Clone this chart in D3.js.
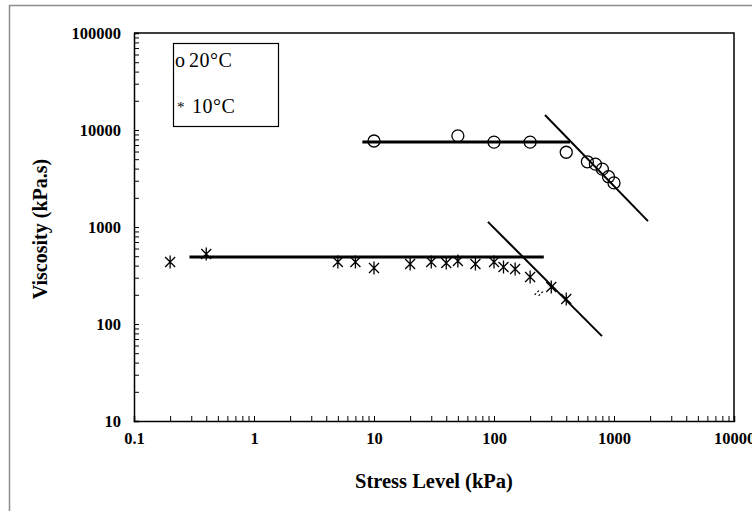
<!DOCTYPE html>
<html>
<head>
<meta charset="utf-8">
<script src="https://cdn.jsdelivr.net/npm/d3@7"></script>
<style>
  body { margin: 0; background: #fff; }
  svg { display: block; }
  text { font-family: "Liberation Serif", "Times New Roman", serif; fill: #000; }
</style>
</head>
<body>
<svg id="chart" width="752" height="511"></svg>
<script>
// stress (kPa) / viscosity (kPa.s)
const stress20 = [10, 50, 100, 200, 400, 600, 700, 800, 900, 1000];
const visc20   = [7700, 8700, 7500, 7500, 5900, 4700, 4450, 3950, 3300, 2850];

const stress10 = [0.2, 0.4, 5, 7, 10, 20, 30, 40, 50, 70, 100, 120, 150, 200, 300, 400];
const visc10   = [436, 527, 436, 436, 378, 416, 436, 425, 446, 416, 436, 387, 369, 305, 241, 181];
// half-hidden marker near 250 kPa
const stress10faint = [240];
const visc10faint   = [225];

// trend lines, [stress, viscosity] end points
const flat20  = [[8, 7500], [430, 7500]];
const steep20 = [[266, 14300], [1920, 1150]];
const flat10  = [[0.29, 490], [260, 490]];
const steep10 = [[89, 1130], [794, 75]];

const xTickLabels = ["0.1", "1", "10", "100", "1000", "10000"];
const yTickLabels = ["10", "100", "1000", "10000", "100000"];
const legendLabels = ["20\u00B0C", "10\u00B0C"];

const svg = d3.select("#chart");

// outer frame (only top and left show up)
svg.append("rect")
  .attr("x", 9.5).attr("y", 5.5)
  .attr("width", 800).attr("height", 600)
  .attr("fill", "none").attr("stroke", "#8c8c8c").attr("stroke-width", 1.5);

const x = d3.scaleLog().domain([0.1, 10000]).range([134, 734]);
const y = d3.scaleLog().domain([10, 100000]).range([421, 33]);

function allTicks(lo, hi) {
  let t = [];
  for (let e = Math.log10(lo); e < Math.log10(hi); e++) {
    for (let m = 1; m < 10; m++) t.push(m * Math.pow(10, e));
  }
  t.push(hi);
  return t;
}

// x axis
const xAxis = svg.append("g")
  .attr("transform", "translate(0,421)")
  .call(d3.axisBottom(x)
    .tickValues(allTicks(0.1, 10000))
    .tickSize(-5)
    .tickPadding(11)
    .tickFormat(d => {
      const i = xTickLabels.indexOf(String(+d.toPrecision(3)));
      return i >= 0 ? xTickLabels[i] : "";
    }));

// y axis
const yAxis = svg.append("g")
  .attr("transform", "translate(134,0)")
  .call(d3.axisLeft(y)
    .tickValues(allTicks(10, 100000))
    .tickSize(-5)
    .tickPadding(13)
    .tickFormat(d => {
      const i = yTickLabels.indexOf(String(+d.toPrecision(3)));
      return i >= 0 ? yTickLabels[i] : "";
    }));

[xAxis, yAxis].forEach(a => {
  a.select(".domain").attr("stroke", "#000").attr("stroke-width", 1.5);
  a.selectAll(".tick line").attr("stroke", "#000").attr("stroke-width", 1);
  a.selectAll(".tick text")
    .style("font-family", "'Liberation Serif', serif")
    .style("font-weight", "bold")
    .style("font-size", "16.5px");
});

// top and right edges of plot box
svg.append("path")
  .attr("d", `M${x(0.1)},${y(100000)}H${x(10000)}V${y(10)}`)
  .attr("fill", "none").attr("stroke", "#000").attr("stroke-width", 1.5);

// axis titles
svg.append("text")
  .attr("x", 434).attr("y", 488)
  .attr("text-anchor", "middle")
  .style("font-weight", "bold").style("font-size", "20.5px")
  .text("Stress Level (kPa)");

svg.append("text")
  .attr("transform", "translate(47,229) rotate(-90)")
  .attr("text-anchor", "middle")
  .style("font-weight", "bold").style("font-size", "20px")
  .text("Viscosity (kPa.s)");

// trend lines
const line = d3.line().x(d => x(d[0])).y(d => y(d[1]));
[[flat20, 3], [steep20, 2], [flat10, 3], [steep10, 2]].forEach(([pts, w]) => {
  svg.append("path")
    .attr("d", line(pts))
    .attr("fill", "none").attr("stroke", "#000").attr("stroke-width", w);
});

// 20 C circles
svg.append("g").selectAll("circle")
  .data(stress20.map((s, i) => [s, visc20[i]]))
  .join("circle")
  .attr("cx", d => x(d[0])).attr("cy", d => y(d[1]))
  .attr("r", 6)
  .attr("fill", "none").attr("stroke", "#000").attr("stroke-width", 1.3);

// 10 C stars (X with a vertical bar)
const star = "M-5,-5L5,5M5,-5L-5,5M0,-6.5L0,6.5";
svg.append("g").selectAll("path")
  .data(stress10.map((s, i) => [s, visc10[i]]))
  .join("path")
  .attr("transform", d => `translate(${x(d[0])},${y(d[1])})`)
  .attr("d", star)
  .attr("fill", "none").attr("stroke", "#000").attr("stroke-width", 1.3);

svg.append("g").selectAll("path")
  .data(stress10faint.map((s, i) => [s, visc10faint[i]]))
  .join("path")
  .attr("transform", d => `translate(${x(d[0])},${y(d[1])})`)
  .attr("d", "M-5,5L0,0M-1,6L4,1")
  .attr("fill", "none").attr("stroke", "#000").attr("stroke-width", 1.2)
  .attr("stroke-dasharray", "2,2");

// legend
const lg = svg.append("g");
lg.append("rect")
  .attr("x", 173.5).attr("y", 43.5).attr("width", 105).attr("height", 83)
  .attr("fill", "#fff").attr("stroke", "#000").attr("stroke-width", 1.2);
const marks = ["o", "*"];
lg.selectAll("text.sym")
  .data(marks)
  .join("text")
  .attr("class", "sym")
  .attr("x", (d, i) => i ? 177 : 175).attr("y", (d, i) => i ? 112 : 67)
  .style("font-size", (d, i) => i ? "15px" : "20px")
  .text(d => d);
lg.selectAll("text.lab")
  .data(legendLabels)
  .join("text")
  .attr("class", "lab")
  .attr("x", (d, i) => i ? 192 : 189).attr("y", (d, i) => i ? 113 : 67)
  .style("font-size", "20px")
  .style("letter-spacing", "0.5px")
  .text(d => d);
</script>
</body>
</html>
